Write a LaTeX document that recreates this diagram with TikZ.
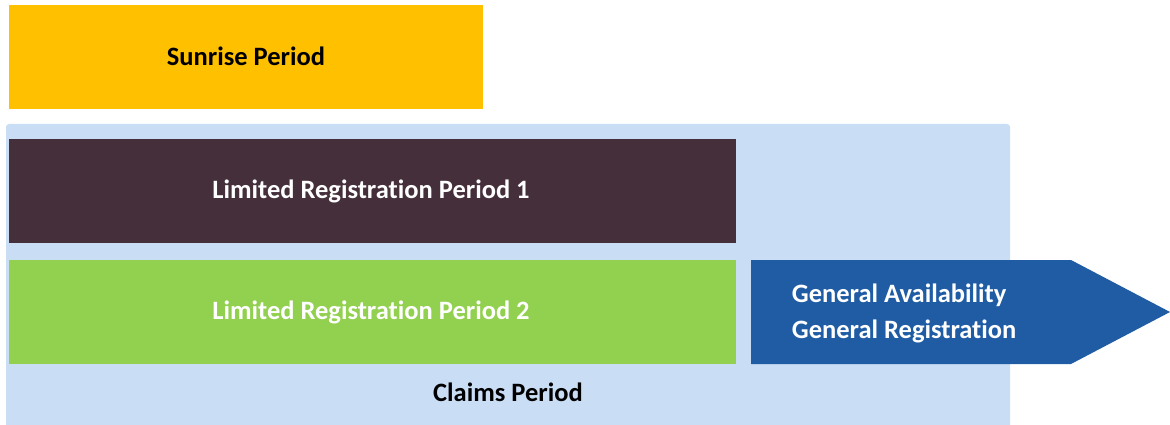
\documentclass[tikz,border=0pt]{standalone}
\usepackage{xcolor}
\usepackage{fontspec}
\setmainfont{Carlito}[Ligatures=NoCommon]
\usepackage{tikz}

\begin{document}
\begin{tikzpicture}[x=1pt,y=1pt,yscale=-1,xscale=1,
  period/.style={inner sep=0.75pt,font=\bfseries\fontsize{26.5}{36}\selectfont}]
        \useasboundingbox (0,0) rectangle (1170,425);
        %Shape: Rectangle [id:claims] 
        \draw [draw=none,fill={rgb, 255:red, 201; green, 221; blue, 244 }  ,rounded corners=3] (6,124) -- (1010,124) -- (1010,430) -- (6,430) -- cycle ;
        %Shape: Rectangle [id:sunrise] 
        \draw [draw=none,fill={rgb, 255:red, 255; green, 192; blue, 0 }  ] (9,5) -- (483,5) -- (483,109) -- (9,109) -- cycle ;
        %Shape: Rectangle [id:lrp1] 
        \draw [draw=none,fill={rgb, 255:red, 68; green, 47; blue, 59 }  ] (9,139) -- (736,139) -- (736,243) -- (9,243) -- cycle ;
        %Shape: Rectangle [id:lrp2] 
        \draw [draw=none,fill={rgb, 255:red, 146; green, 208; blue, 80 }  ] (9,260) -- (736,260) -- (736,364) -- (9,364) -- cycle ;
        %Shape: Right Arrow [id:ga] 
        \draw [draw=none,fill={rgb, 255:red, 31; green, 92; blue, 164 }  ] (751,260) -- (1071,260) -- (1170,312) -- (1071,364) -- (751,364) -- cycle ;
        % Text Node
        \draw (246,56.5) node [period] (sunrise) {Sunrise Period};
        % Text Node
        \draw (371,191.5) node [period,text=white] (lrp1) {Limited Registration Period 1};
        % Text Node
        \draw (371,312.5) node [period,text=white] (lrp2) {Limited Registration Period 2};
        % Text Node
        \draw (791,313) node [period,text=white,anchor=west,align=left] (ga) {General Availability\\General Registration};
        % Text Node
        \draw (508,392.5) node [period] (claims) {Claims Period};
\end{tikzpicture}
\end{document}
